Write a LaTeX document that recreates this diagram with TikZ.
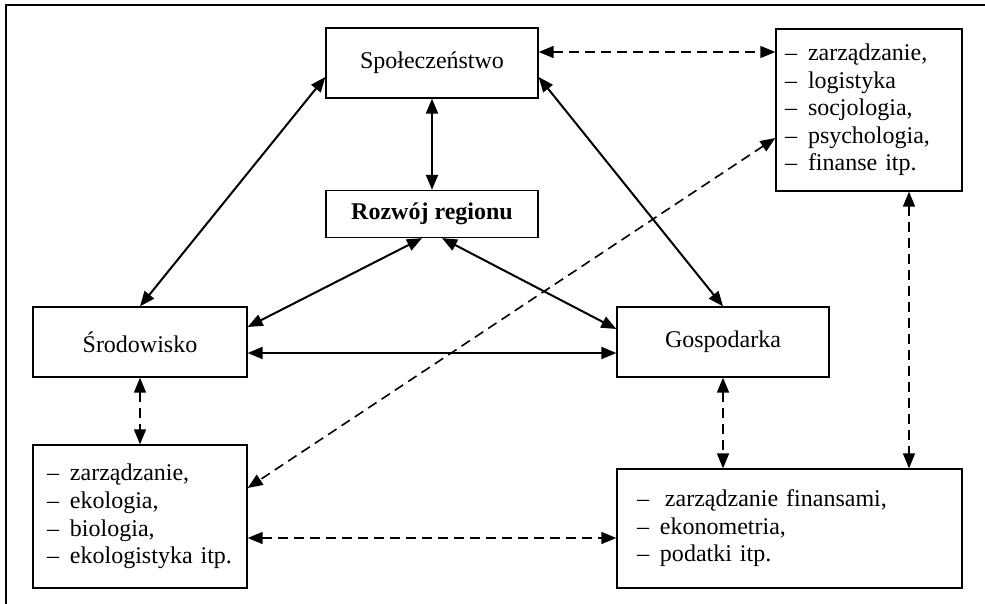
\documentclass[tikz,border=0pt]{standalone}
\usepackage{fontspec}
\setmainfont{Liberation Serif}
\usetikzlibrary{arrows.meta}
\newcommand{\pkt}{\makebox[11.5pt][l]{--}}
\begin{document}
\begin{tikzpicture}
  [x=0.5pt,y=-0.5pt,>={Triangle[length=7.5pt,width=6pt]},
   every node/.style={draw,line width=0.65pt,rectangle,font=\fontsize{12pt}{13.8pt}\selectfont},
   pole/.style={minimum width=106pt,minimum height=35pt},
   lista/.style={align=left,inner ysep=0pt},
   pelna/.style={<->,draw,line width=1pt},
   kreska/.style={<->,draw,line width=0.8pt,dash pattern=on 5pt off 3pt}]
  \clip (0,0) rectangle (985,604);
  \draw[line width=0.65pt] (6,620) -- (6,5) -- (1000,5);
  \node[pole] (spol) at (432,63) {Społeczeństwo};
  \node[pole,minimum height=23.5pt] (rozw) at (432,214) {\textbf{Rozwój regionu}};
  \node[pole,minimum width=107pt] (srod) at (140,342) {Środowisko};
  \node[pole] (gosp) at (723,342) {Gospodarka};
  \node[lista,text width=84pt,inner xsep=4.5pt,minimum height=81pt] (tr) at (869,110)
    {\pkt zarządzanie,\\ \pkt logistyka\\ \pkt socjologia,\\ \pkt psychologia,\\ \pkt finanse itp.};
  \node[lista,text width=93pt,inner xsep=7pt,minimum height=71.5pt] (bl) at (140,516.5)
    {\pkt zarządzanie,\\ \pkt ekologia,\\ \pkt biologia,\\ \pkt ekologistyka itp.};
  \node[lista,text width=152.5pt,inner xsep=10pt,minimum height=59.5pt] (br) at (789.5,528.5)
    {\pkt\hspace{2.5pt}zarządzanie finansami,\\ \pkt ekonometria,\\ \pkt podatki itp.};
  \coordinate (trb) at ([xshift=20pt]tr.south);
  \coordinate (blb) at ([yshift=-10.75pt]bl.east);
 \path[every edge/.style=pelna]
        (spol.south) edge (rozw.north)
        ([yshift=-7pt]spol.west) edge (srod.north)
        ([yshift=-7pt]spol.east) edge (gosp.north)
        ([xshift=-5pt]rozw.south) edge ([yshift=7.5pt]srod.east)
        ([xshift=5pt]rozw.south) edge ([yshift=6.5pt]gosp.west)
        ([yshift=-5.5pt]srod.east) edge ([yshift=-5.5pt]gosp.west);
 \path[every edge/.style=kreska]
        ([yshift=5.5pt]spol.east) edge ([yshift=29pt]tr.west)
        ([yshift=-14pt]tr.west) edge ([yshift=14.25pt]bl.east)
        (trb) edge (trb |- br.north)
        (srod.south) edge (bl.north)
        (gosp.south) edge (gosp.south |- br.north)
        (blb) edge (blb -| br.west);

\end{tikzpicture}
\end{document}
